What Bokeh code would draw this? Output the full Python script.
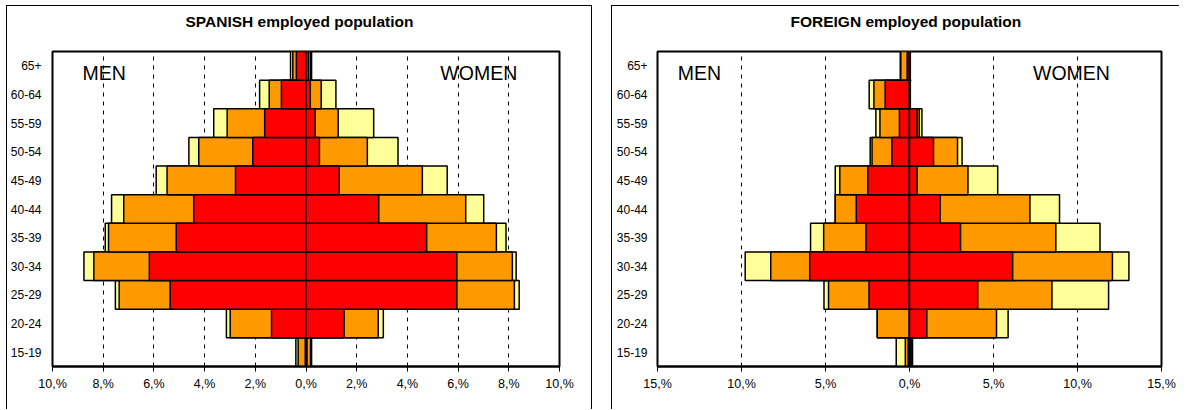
from bokeh.plotting import figure
from bokeh.models import FixedTicker, Label, Title
from bokeh.layouts import row
from bokeh.embed import file_html
from bokeh.resources import INLINE

ages = ["15-19", "20-24", "25-29", "30-34", "35-39", "40-44",
        "45-49", "50-54", "55-59", "60-64", "65+"]

# SPANISH employed population (% of total), three nested series
sp_men_yellow = [0.40, 3.14, 7.52, 8.76, 7.92, 7.67, 5.91, 4.62, 3.64, 1.83, 0.61]
sp_men_orange = [0.31, 2.99, 7.37, 8.37, 7.79, 7.19, 5.48, 4.23, 3.11, 1.45, 0.52]
sp_men_red = [0.03, 1.36, 5.36, 6.18, 5.12, 4.43, 2.78, 2.10, 1.63, 0.97, 0.38]
sp_women_yellow = [0.22, 3.05, 8.41, 8.29, 7.89, 7.01, 5.57, 3.63, 2.67, 1.18, 0.22]
sp_women_orange = [0.18, 2.85, 8.22, 8.14, 7.51, 6.30, 4.59, 2.42, 1.27, 0.60, 0.18]
sp_women_red = [0.04, 1.51, 5.95, 5.95, 4.76, 2.87, 1.31, 0.53, 0.36, 0.17, 0.10]

# FOREIGN employed population
fo_men_yellow = [0.79, 1.92, 5.09, 9.78, 5.89, 4.42, 4.42, 2.34, 2.00, 2.40, 0.55]
fo_men_orange = [0.25, 1.92, 4.82, 8.26, 5.11, 4.42, 4.15, 2.23, 1.76, 2.12, 0.52]
fo_men_red = [0.08, 0.00, 2.41, 5.94, 2.59, 3.17, 2.48, 1.05, 0.60, 1.45, 0.14]
fo_women_yellow = [0.18, 5.87, 11.85, 13.06, 11.34, 8.93, 5.25, 3.13, 0.74, 0.05, 0.05]
fo_women_orange = [0.14, 5.18, 8.48, 12.08, 8.71, 7.17, 3.48, 2.86, 0.58, 0.03, 0.03]
fo_women_red = [0.05, 1.03, 4.06, 6.14, 3.04, 1.83, 0.45, 1.43, 0.45, 0.02, 0.02]

sp_ticks = [-10, -8, -6, -4, -2, 0, 2, 4, 6, 8, 10]
fo_ticks = [-15, -10, -5, 0, 5, 10, 15]

COLORS = ["#FFFF99", "#FF9900", "#FF0000"]
FONT = "Liberation Sans"
BORDER = "1px solid black"


def pyramid(title, men, women, ticks, width, mb_left, mb_right, y_standoff,
            men_x, women_x, styles):
    xmax = ticks[-1]
    p = figure(width=width, height=404, x_range=(-xmax, xmax), y_range=(-0.5, 10.5),
               output_backend="svg", toolbar_location=None,
               min_border_left=mb_left, min_border_right=mb_right,
               min_border_top=45, min_border_bottom=44)
    p.styles = styles
    ys = list(range(len(ages)))
    for vals, col in zip(men, COLORS):
        p.hbar(y=ys, left=[-v for v in vals], right=0, height=1.0,
               fill_color=col, line_color="black", line_width=1.5)
    for vals, col in zip(women, COLORS):
        p.hbar(y=ys, left=0, right=vals, height=1.0,
               fill_color=col, line_color="black", line_width=1.5)

    # spacer between the frame and the chart title
    p.add_layout(Title(text=" ", text_font_size="14px", text_font=FONT, standoff=4), "above")
    p.title.text = title
    p.title.align = "left"
    p.title.offset = 133
    p.title.text_font = FONT
    p.title.text_font_style = "bold"
    p.title.text_font_size = "15.5px"
    p.title.text_color = "black"
    p.title.standoff = 0

    p.outline_line_color = "black"
    p.outline_line_width = 2
    p.xgrid.ticker = FixedTicker(ticks=ticks)
    p.xgrid.grid_line_color = "black"
    p.xgrid.grid_line_dash = "4 5"
    p.xgrid.grid_line_width = 1
    p.ygrid.grid_line_color = None

    p.xaxis.ticker = FixedTicker(ticks=ticks)
    p.xaxis.major_label_overrides = {t: f"{abs(t)},%" for t in ticks}
    p.xaxis.axis_line_color = "black"
    p.xaxis.axis_line_width = 2
    p.xaxis.major_tick_out = 5
    p.xaxis.major_tick_in = 0
    p.xaxis.minor_tick_line_color = None
    p.xaxis.major_label_standoff = 5
    p.xaxis.major_label_text_font = FONT
    p.xaxis.major_label_text_font_size = "12.5px"
    p.xaxis.major_label_text_color = "black"

    p.yaxis.ticker = FixedTicker(ticks=ys)
    p.yaxis.major_label_overrides = {i: a for i, a in zip(ys, ages)}
    p.yaxis.axis_line_color = None
    p.yaxis.major_tick_line_color = None
    p.yaxis.minor_tick_line_color = None
    p.yaxis.major_label_standoff = y_standoff
    p.yaxis.major_label_text_font = FONT
    p.yaxis.major_label_text_font_size = "12px"
    p.yaxis.major_label_text_color = "black"

    p.add_layout(Label(x=men_x, y=9.74, text="MEN", text_baseline="middle",
                       text_font=FONT, text_font_size="19.5px", text_color="black"))
    p.add_layout(Label(x=women_x, y=9.74, text="WOMEN", text_baseline="middle",
                       text_font=FONT, text_font_size="19.5px", text_color="black"))
    return p


p1 = pyramid("SPANISH employed population",
             [sp_men_yellow, sp_men_orange, sp_men_red],
             [sp_women_yellow, sp_women_orange, sp_women_red],
             sp_ticks, 586, 45, 34, 5, -8.82, 5.3,
             {"border-left": BORDER, "border-top": BORDER, "border-right": BORDER})
p2 = pyramid("FOREIGN employed population",
             [fo_men_yellow, fo_men_orange, fo_men_red],
             [fo_women_yellow, fo_women_orange, fo_women_red],
             fo_ticks, 568, 45, 19, 4, -13.8, 7.35,
             {"border-left": BORDER, "border-top": BORDER})

layout = row(p1, p2, spacing=19, margin=(5, 0, 0, 6))
open("out.html", "w").write(file_html(layout, INLINE))
